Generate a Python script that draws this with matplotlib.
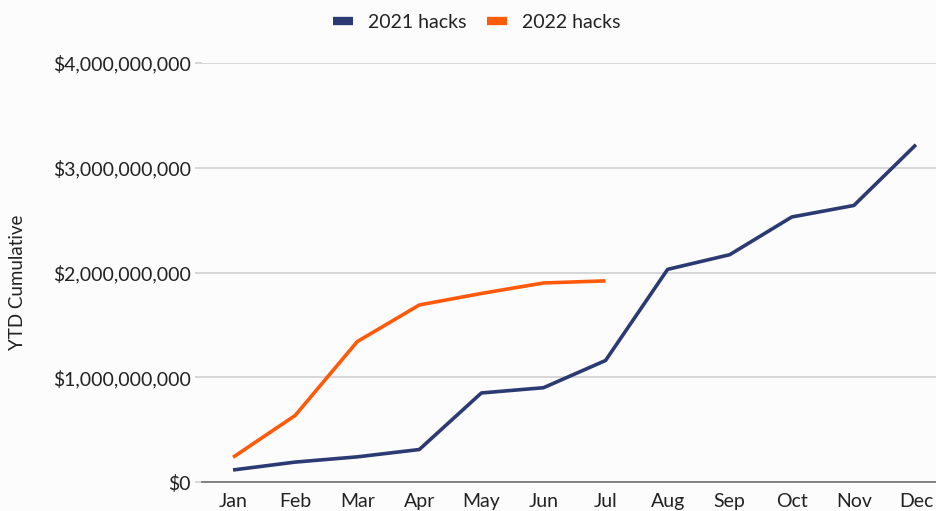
import matplotlib.pyplot as plt
from matplotlib.ticker import FuncFormatter

# Data
months = ['Jan', 'Feb', 'Mar', 'Apr', 'May', 'Jun', 'Jul', 'Aug', 'Sep', 'Oct', 'Nov', 'Dec']
hacks_2021 = [0.115e9, 0.19e9, 0.24e9, 0.31e9, 0.85e9, 0.90e9, 1.16e9,
              2.03e9, 2.17e9, 2.53e9, 2.64e9, 3.22e9]
hacks_2022 = [0.236e9, 0.635e9, 1.34e9, 1.69e9, 1.80e9, 1.90e9, 1.92e9]
yticks = [0, 1e9, 2e9, 3e9, 4e9]

plt.rcParams['font.family'] = ['Lato', 'DejaVu Sans']

W, H = 937, 511
fig = plt.figure(figsize=(W / 100, H / 100), dpi=100, facecolor='#fcfcfc')
# axes runs a bit past the right edge, like the original
ax = fig.add_axes([202 / W, (H - 482) / H, (947 - 202) / W, (482 - 63) / H])
ax.set_facecolor('#fcfcfc')

x = range(len(months))
ax.plot(x, hacks_2021, color='#2b3a72', lw=2.6, label='2021 hacks', solid_capstyle='butt')
ax.plot(range(len(hacks_2022)), hacks_2022, color='#ff5a0a', lw=2.6, label='2022 hacks',
        solid_capstyle='butt')

ax.set_xlim(-0.5, len(months) - 0.5)
ax.set_ylim(0, 4e9)
ax.set_xticks(list(x))
ax.set_xticklabels(months)
ax.set_yticks(yticks)
ax.yaxis.set_major_formatter(FuncFormatter(lambda v, p: f'${v:,.0f}'))

ax.grid(axis='y', color='#d0d0d0', lw=1.2)
ax.set_axisbelow(True)
for s in ['top', 'right', 'left']:
    ax.spines[s].set_visible(False)
ax.spines['bottom'].set_color('#707070')
ax.spines['bottom'].set_linewidth(1.2)
ax.tick_params(axis='y', length=5, color='#d0d0d0', width=1.2, pad=3, labelsize=14,
               labelcolor='#222222')
ax.tick_params(axis='x', length=0, pad=8, labelsize=14, labelcolor='#222222')

ax.set_ylabel('YTD Cumulative', fontsize=13.5, color='#222222')
ax.yaxis.set_label_coords(-176 / (947 - 202), 0.477)

ax.legend(loc='center', bbox_to_anchor=(477 / W, (H - 22) / H), bbox_transform=fig.transFigure,
          ncol=2, frameon=False, fontsize=14, handlelength=1.0, handleheight=0.5,
          columnspacing=1.05, handletextpad=0.8, labelcolor='#222222')
for line in ax.get_legend().get_lines():
    line.set_linewidth(6)

fig.savefig('out.png', dpi=100, facecolor=fig.get_facecolor())
